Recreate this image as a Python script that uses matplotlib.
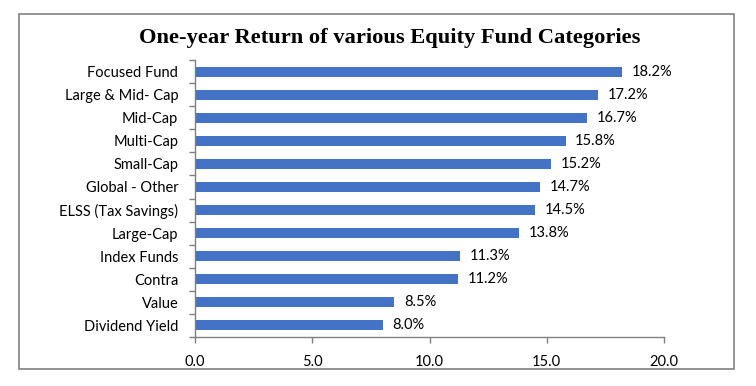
import matplotlib.pyplot as plt
from matplotlib.patches import Rectangle
import numpy as np

# data, top to bottom as shown
categories = ['Focused Fund', 'Large & Mid- Cap', 'Mid-Cap', 'Multi-Cap', 'Small-Cap',
              'Global - Other', 'ELSS (Tax Savings)', 'Large-Cap', 'Index Funds',
              'Contra', 'Value', 'Dividend Yield']
returns = [18.2, 17.2, 16.7, 15.8, 15.2, 14.7, 14.5, 13.8, 11.3, 11.2, 8.5, 8.0]
x_ticks = [0.0, 5.0, 10.0, 15.0, 20.0]

bar_color = '#4472C4'
axis_color = '#808080'
label_font = 'Lato'

fig = plt.figure(figsize=(7.56, 3.86), dpi=100)
ax = fig.add_axes([195 / 756, 1 - 337 / 386, (664 - 195) / 756, (337 - 60) / 386])

# outer chart border
fig.patches.append(Rectangle((19 / 756, 1 - 369 / 386), (734 - 19) / 756, (369 - 14) / 386,
                             transform=fig.transFigure, fill=False,
                             edgecolor=axis_color, linewidth=1.2))

y = np.arange(len(categories))
ax.barh(y, returns, height=0.43, color=bar_color, zorder=2)

for yi, v in zip(y, returns):
    ax.annotate(f'{v:.1f}%', (v, yi), xytext=(7, 0), textcoords='offset points',
                ha='left', va='center', fontsize=10.5, family=label_font)

ax.set_xlim(0, 20)
ax.set_ylim(len(categories) - 0.5, -0.5)
ax.set_xticks(x_ticks)
ax.set_xticklabels([f'{t:.1f}' for t in x_ticks], fontsize=10.5, family=label_font)
ax.set_yticks(y)
ax.set_yticklabels(categories, fontsize=10.5, family=label_font)
ax.set_yticks(np.arange(-0.5, len(categories), 1.0), minor=True)
ax.tick_params(axis='y', which='major', length=0, pad=12)
ax.tick_params(axis='y', which='minor', length=4, color=axis_color, width=1)
ax.tick_params(axis='x', which='major', length=4, color=axis_color, width=1, pad=9)

for side in ['top', 'right']:
    ax.spines[side].set_visible(False)
for side in ['left', 'bottom']:
    ax.spines[side].set_color(axis_color)
    ax.spines[side].set_linewidth(1)

fig.text(390 / 756, 1 - 38 / 386, 'One-year Return of various Equity Fund Categories',
         ha='center', va='center', fontsize=16.2, fontweight='bold', family='Liberation Serif')

fig.savefig('out.png', dpi=100)
